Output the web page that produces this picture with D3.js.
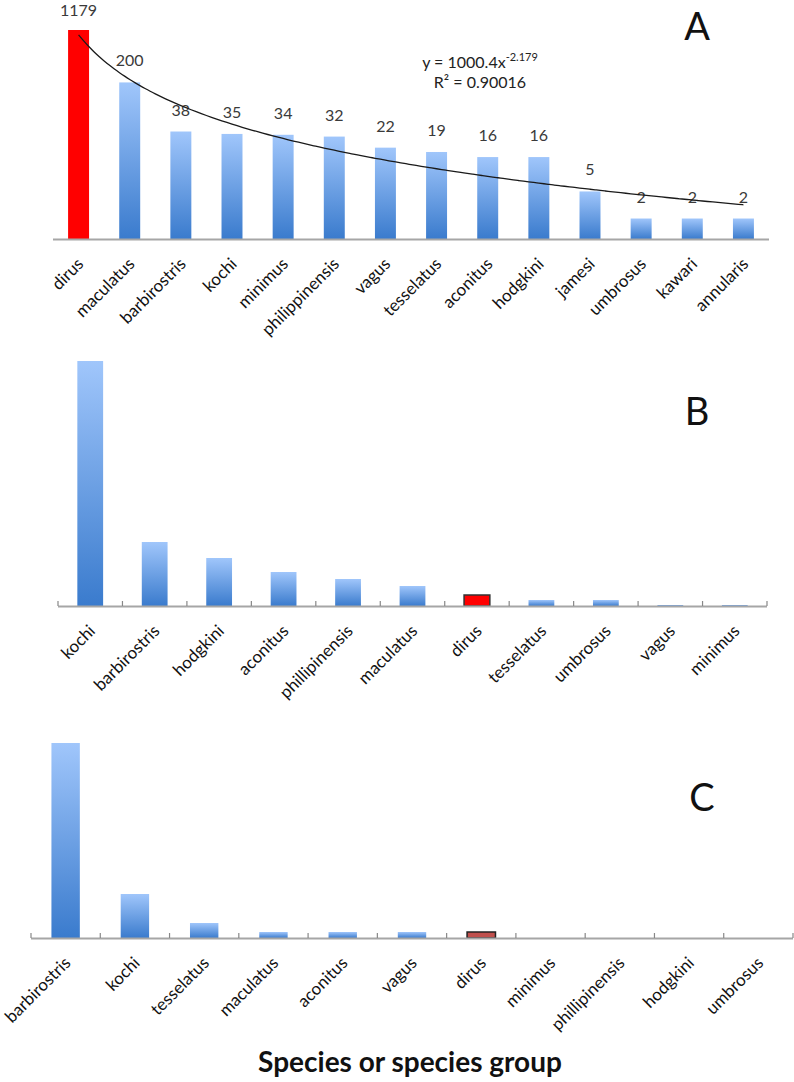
<!DOCTYPE html>
<html>
<head>
<meta charset="utf-8">
<script src="https://cdn.jsdelivr.net/npm/d3@7"></script>
<style>
  body { margin: 0; background: #fff; }
  svg { display: block; font-family: Lato, "Open Sans", sans-serif; }
</style>
</head>
<body>
<svg id="chart" width="794" height="1082"></svg>
<script>
// panel A - counts (log scale)
var speciesA = ["dirus", "maculatus", "barbirostris", "kochi", "minimus", "philippinensis", "vagus",
  "tesselatus", "aconitus", "hodgkini", "jamesi", "umbrosus", "kawari", "annularis"];
var countsA = [1179, 200, 38, 35, 34, 32, 22, 19, 16, 16, 5, 2, 2, 2];
var trendA = [1000.4, -2.179]; // power trendline y = a*x^b
var eqLines = ["R\u00b2 = 0.90016"];

// panel B
var speciesB = ["kochi", "barbirostris", "hodgkini", "aconitus", "phillipinensis", "maculatus",
  "dirus", "tesselatus", "umbrosus", "vagus", "minimus"];
var valuesB = [245, 64, 48, 34, 27, 20, 11, 6, 6, 1, 1];

// panel C
var speciesC = ["barbirostris", "kochi", "tesselatus", "maculatus", "aconitus", "vagus",
  "dirus", "minimus", "phillipinensis", "hodgkini", "umbrosus"];
var valuesC = [195, 44, 15, 6, 6, 6, 6, 0, 0, 0, 0];

var svg = d3.select("#chart");

var defs = svg.append("defs");
var grad = defs.append("linearGradient").attr("id", "blue")
    .attr("x1", 0).attr("y1", 0).attr("x2", 0).attr("y2", 1);
grad.append("stop").attr("offset", "0%").attr("stop-color", "#a0c6fb");
grad.append("stop").attr("offset", "100%").attr("stop-color", "#3a7bcd");

function drawLabels(g, x, names, base) {
  g.selectAll("text.lab")
      .data(names)
    .enter().append("text")
      .attr("class", "lab")
      .attr("transform", function(d) {
        return "translate(" + (x(d) + x.bandwidth() / 2 + 6) + "," + (base + 26) + ") rotate(-45)";
      })
      .attr("text-anchor", "end")
      .style("font-size", "17px")
      .attr("fill", "#111")
      .text(function(d) { return d; });
}

function drawTicks(g, x, base) {
  var n = x.domain().length;
  var r0 = x.range()[0];
  g.selectAll("line.tick")
      .data(d3.range(n + 1))
    .enter().append("line")
      .attr("class", "tick")
      .attr("x1", function(i) { return r0 + i * x.step(); })
      .attr("x2", function(i) { return r0 + i * x.step(); })
      .attr("y1", base)
      .attr("y2", base - 5)
      .attr("stroke", "#888")
      .attr("stroke-width", 1.2);
}

// ---------- Panel A ----------
var baseA = 239;
var xA = d3.scaleBand().domain(speciesA).range([53, 769]).paddingInner(0.59).paddingOuter(0.295);
var yA = d3.scaleLog().domain([1, 1179]).range([baseA, 30]);

var gA = svg.append("g");
gA.selectAll("rect")
    .data(countsA)
  .enter().append("rect")
    .attr("x", function(d, i) { return xA(speciesA[i]); })
    .attr("width", xA.bandwidth())
    .attr("y", function(d) { return yA(d); })
    .attr("height", function(d) { return baseA - yA(d); })
    .attr("fill", function(d, i) { return speciesA[i] == "dirus" ? "#ff0000" : "url(#blue)"; });

gA.append("line")
    .attr("x1", 53).attr("x2", 769).attr("y1", baseA + 0.5).attr("y2", baseA + 0.5)
    .attr("stroke", "#a6a6a6").attr("stroke-width", 2);

gA.selectAll("text.val")
    .data(countsA)
  .enter().append("text")
    .attr("class", "val")
    .attr("x", function(d, i) { return xA(speciesA[i]) + xA.bandwidth() / 2; })
    .attr("y", function(d) { return Math.max(yA(d) - 16, 16); })
    .attr("text-anchor", "middle")
    .style("font-size", "16px")
    .attr("fill", "#3a3a3a")
    .text(function(d) { return d; });

// trendline
var pos = d3.scaleLinear().domain([1, speciesA.length])
    .range([xA(speciesA[0]) + xA.bandwidth() / 2, xA(speciesA[speciesA.length - 1]) + xA.bandwidth() / 2]);
var pts = d3.range(1, speciesA.length + 0.001, 0.1).map(function(t) {
  return [pos(t), yA(trendA[0] * Math.pow(t, trendA[1]))];
});
gA.append("path")
    .attr("d", d3.line().curve(d3.curveBasis)(pts))
    .attr("fill", "none")
    .attr("stroke", "#1a1a1a")
    .attr("stroke-width", 1.3);

var eq = gA.append("text").attr("x", 480).attr("y", 68).attr("text-anchor", "middle")
    .style("font-size", "16px").attr("fill", "#222");
eq.append("tspan").text("y = " + trendA[0] + "x");
eq.append("tspan").attr("dy", -7).style("font-size", "11px").text(trendA[1]);
gA.append("text").attr("x", 480).attr("y", 88).attr("text-anchor", "middle")
    .style("font-size", "16px").attr("fill", "#222").text(eqLines[0]);

gA.append("text").attr("x", 697).attr("y", 40).attr("text-anchor", "middle")
    .style("font-size", "38px").attr("fill", "#111").text("A");

drawLabels(gA, xA, speciesA, baseA);

// ---------- Panel B ----------
var baseB = 606;
var xB = d3.scaleBand().domain(speciesB).range([58, 767]).paddingInner(0.6).paddingOuter(0.3);
var yB = d3.scaleLinear().domain([0, 245]).range([baseB, 361]);

var gB = svg.append("g");
gB.selectAll("rect")
    .data(valuesB)
  .enter().append("rect")
    .attr("x", function(d, i) { return xB(speciesB[i]); })
    .attr("width", xB.bandwidth())
    .attr("y", function(d) { return yB(d); })
    .attr("height", function(d) { return baseB - yB(d); })
    .attr("fill", function(d, i) { return speciesB[i] == "dirus" ? "#ff0000" : "url(#blue)"; })
    .attr("stroke", function(d, i) { return speciesB[i] == "dirus" ? "#333" : "none"; })
    .attr("stroke-width", 1.5);

gB.append("line")
    .attr("x1", 58).attr("x2", 767).attr("y1", baseB + 0.5).attr("y2", baseB + 0.5)
    .attr("stroke", "#a6a6a6").attr("stroke-width", 2);
drawTicks(gB, xB, baseB);

gB.append("text").attr("x", 697).attr("y", 425).attr("text-anchor", "middle")
    .style("font-size", "38px").attr("fill", "#111").text("B");

drawLabels(gB, xB, speciesB, baseB);

// ---------- Panel C ----------
var baseC = 938;
var xC = d3.scaleBand().domain(speciesC).range([31, 793]).paddingInner(0.59).paddingOuter(0.295);
var yC = d3.scaleLinear().domain([0, 195]).range([baseC, 743]);

var gC = svg.append("g");
gC.selectAll("rect")
    .data(valuesC)
  .enter().append("rect")
    .attr("x", function(d, i) { return xC(speciesC[i]); })
    .attr("width", xC.bandwidth())
    .attr("y", function(d) { return yC(d); })
    .attr("height", function(d) { return baseC - yC(d); })
    .attr("fill", function(d, i) { return speciesC[i] == "dirus" ? "#c0504d" : "url(#blue)"; })
    .attr("stroke", function(d, i) { return speciesC[i] == "dirus" ? "#222" : "none"; })
    .attr("stroke-width", 1.5);

gC.append("line")
    .attr("x1", 31).attr("x2", 793).attr("y1", baseC + 0.5).attr("y2", baseC + 0.5)
    .attr("stroke", "#a6a6a6").attr("stroke-width", 2);
drawTicks(gC, xC, baseC);

gC.append("text").attr("x", 702).attr("y", 811).attr("text-anchor", "middle")
    .style("font-size", "38px").attr("fill", "#111").text("C");

drawLabels(gC, xC, speciesC, baseC);

svg.append("text").attr("x", 410).attr("y", 1072).attr("text-anchor", "middle")
    .style("font-size", "28px").style("font-weight", "bold").attr("fill", "#111")
    .text("Species or species group");
</script>
</body>
</html>
